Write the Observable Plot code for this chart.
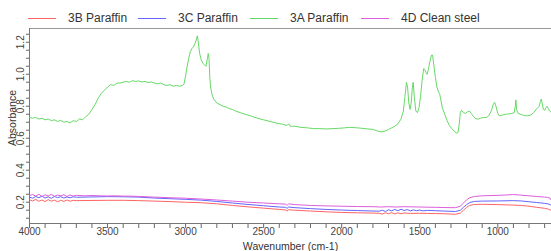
<!DOCTYPE html>
<html><head><meta charset="utf-8">
<script src="https://cdn.jsdelivr.net/npm/d3@7"></script>
<script src="https://cdn.jsdelivr.net/npm/@observablehq/plot@0.6"></script>
<style>
body{margin:0;background:#fff;font-family:"Liberation Sans",Arial,sans-serif;}
#legend{position:relative;width:551px;height:24px;font-size:12px;color:#333;}
.item{position:absolute;top:11px;display:flex;align-items:center;white-space:pre;}
.sw{width:28px;height:0;border-top:1.2px solid;margin-right:12px;}
</style>
</head><body>
<div id="legend"></div>
<div id="chart"></div>
<script>
const seriesNames = ["3B Paraffin", "3C Paraffin", "3A Paraffin", "4D Clean steel"];
const seriesColors = ["#ff6464", "#6464ff", "#66d966", "#dc5edc"];

// 3A Paraffin (green)
const wnA = [4000,3980,3960,3940,3920,3900,3880,3860,3840,3820,3800,3780,3760,3740,3720,3700,3680,3660,3640,3620,3600,3580,3560,3540,3520,3500,3480,3460,3440,3420,3400,3380,3360,3340,3320,3300,3280,3260,3240,3220,3200,3180,3160,3140,3120,3100,3080,3060,3040,3020,3010,3000,2990,2980,2970,2960,2950,2940,2930,2925,2920,2910,2900,2890,2880,2870,2860,2855,2850,2845,2840,2830,2820,2800,2780,2760,2740,2720,2700,2680,2650,2620,2600,2570,2540,2500,2460,2420,2380,2350,2340,2330,2300,2260,2220,2180,2140,2100,2060,2020,1980,1950,1900,1850,1800,1770,1750,1720,1700,1680,1660,1640,1620,1605,1595,1585,1578,1570,1562,1555,1547,1542,1535,1525,1515,1505,1495,1485,1475,1468,1460,1453,1445,1435,1425,1418,1410,1400,1390,1380,1372,1365,1355,1340,1325,1310,1295,1280,1265,1255,1248,1240,1232,1220,1207,1195,1182,1170,1155,1140,1125,1110,1090,1070,1055,1040,1028,1020,1012,1000,990,970,950,930,910,895,888,884,880,870,850,830,810,790,770,750,735,727,722,716,708,700,692,684,676,668,660,656];
const absA = [0.73,0.725,0.73,0.72,0.725,0.715,0.72,0.71,0.715,0.705,0.712,0.70,0.705,0.695,0.71,0.705,0.72,0.715,0.735,0.75,0.78,0.81,0.85,0.88,0.90,0.92,0.935,0.93,0.945,0.945,0.95,0.955,0.95,0.96,0.955,0.958,0.952,0.955,0.948,0.952,0.945,0.94,0.945,0.935,0.93,0.935,0.925,0.93,0.925,0.93,0.94,0.99,1.05,1.10,1.14,1.16,1.17,1.19,1.22,1.24,1.21,1.13,1.09,1.07,1.06,1.05,1.10,1.13,1.10,0.98,0.92,0.87,0.845,0.82,0.81,0.80,0.795,0.785,0.78,0.77,0.76,0.75,0.745,0.735,0.725,0.715,0.705,0.695,0.688,0.68,0.69,0.675,0.675,0.668,0.665,0.66,0.66,0.658,0.66,0.662,0.665,0.668,0.665,0.66,0.655,0.645,0.64,0.645,0.655,0.665,0.675,0.69,0.72,0.77,0.86,0.95,0.92,0.82,0.78,0.82,0.92,0.95,0.86,0.77,0.76,0.79,0.86,0.96,1.035,1.03,1.01,1.0,1.03,1.08,1.12,1.12,1.06,0.98,0.92,0.89,0.875,0.84,0.79,0.75,0.71,0.68,0.66,0.645,0.632,0.635,0.68,0.76,0.775,0.76,0.755,0.765,0.77,0.755,0.735,0.722,0.72,0.725,0.73,0.73,0.745,0.775,0.815,0.825,0.80,0.755,0.74,0.745,0.75,0.752,0.755,0.76,0.80,0.84,0.78,0.755,0.748,0.742,0.74,0.745,0.76,0.785,0.80,0.83,0.845,0.82,0.78,0.775,0.79,0.80,0.785,0.77,0.765,0.76];

// 4D Clean steel (magenta)
const wnD = [4000,3980,3960,3940,3920,3900,3880,3860,3840,3820,3800,3780,3760,3740,3720,3700,3650,3600,3550,3500,3450,3400,3350,3300,3200,3100,3000,2900,2800,2700,2600,2500,2400,2360,2350,2340,2300,2200,2100,2000,1900,1800,1750,1700,1650,1600,1500,1400,1350,1300,1270,1240,1220,1200,1180,1150,1100,1000,950,900,870,800,750,700,680,665,660,656];
const absD = [0.242,0.248,0.238,0.25,0.236,0.246,0.24,0.249,0.237,0.245,0.24,0.247,0.236,0.245,0.239,0.243,0.24,0.242,0.24,0.239,0.24,0.238,0.238,0.236,0.232,0.228,0.225,0.22,0.214,0.207,0.20,0.195,0.19,0.188,0.18,0.19,0.185,0.18,0.177,0.175,0.173,0.172,0.17,0.172,0.17,0.172,0.17,0.168,0.167,0.166,0.166,0.175,0.195,0.215,0.228,0.236,0.24,0.243,0.245,0.248,0.246,0.24,0.236,0.232,0.23,0.225,0.215,0.22];

// 3C Paraffin (blue)
const wnC = [4000,3980,3960,3940,3920,3900,3880,3860,3840,3820,3800,3780,3760,3740,3720,3700,3600,3500,3400,3300,3200,3100,3000,2900,2800,2700,2600,2500,2400,2360,2350,2340,2300,2200,2100,2000,1900,1800,1760,1740,1720,1700,1680,1660,1640,1620,1600,1580,1560,1540,1520,1500,1480,1450,1400,1350,1300,1270,1240,1220,1200,1180,1150,1100,1000,900,850,800,750,700,680,665,656];
const absC = [0.232,0.225,0.236,0.228,0.238,0.226,0.234,0.224,0.236,0.229,0.235,0.226,0.233,0.228,0.234,0.231,0.233,0.235,0.234,0.232,0.226,0.222,0.218,0.213,0.205,0.195,0.186,0.178,0.17,0.168,0.162,0.17,0.166,0.16,0.155,0.151,0.148,0.145,0.144,0.15,0.142,0.153,0.146,0.155,0.147,0.156,0.148,0.154,0.146,0.152,0.147,0.151,0.146,0.149,0.147,0.145,0.143,0.142,0.15,0.168,0.185,0.198,0.205,0.207,0.208,0.21,0.208,0.203,0.198,0.193,0.19,0.185,0.178];

// 3B Paraffin (red)
const wnB = [4000,3980,3960,3940,3920,3900,3880,3860,3840,3820,3800,3780,3760,3740,3720,3700,3600,3500,3400,3300,3200,3100,3000,2900,2800,2700,2600,2500,2400,2360,2350,2340,2300,2200,2100,2000,1900,1800,1760,1740,1720,1700,1680,1660,1640,1620,1600,1560,1500,1450,1400,1350,1300,1270,1240,1220,1200,1180,1150,1100,1000,900,850,800,750,700,680,665,656];
const absB = [0.215,0.208,0.218,0.206,0.214,0.204,0.216,0.207,0.213,0.203,0.212,0.205,0.214,0.206,0.212,0.21,0.211,0.212,0.212,0.21,0.207,0.204,0.20,0.197,0.19,0.18,0.171,0.163,0.155,0.152,0.145,0.153,0.15,0.145,0.14,0.136,0.134,0.132,0.131,0.126,0.134,0.128,0.135,0.127,0.134,0.128,0.133,0.13,0.131,0.13,0.129,0.128,0.126,0.125,0.132,0.15,0.168,0.18,0.186,0.187,0.185,0.182,0.18,0.175,0.168,0.162,0.158,0.152,0.148];

const xTicks = d3.range(4000, 599, -100);
const xLabels = [4000, 3500, 3000, 2500, 2000, 1500, 1000];
const yTicks = d3.range(0.1, 1.2501, 0.05).map(v => +v.toFixed(2));
const yLabels = [0.2, 0.4, 0.6, 0.8, 1.0, 1.2];

// legend
const legendX = [28, 138, 250, 361];
const legend = document.getElementById("legend");
seriesNames.forEach((n, i) => {
  const el = document.createElement("div");
  el.className = "item";
  el.style.left = legendX[i] + "px";
  el.innerHTML = `<span class="sw" style="border-color:${seriesColors[i]}"></span><span>${n}</span>`;
  legend.appendChild(el);
});

const rows = [];
const add = (wn, ab, name) => wn.forEach((w, i) => rows.push({wn: w, abs: ab[i], s: name}));
add(wnB, absB, seriesNames[0]);
add(wnC, absC, seriesNames[1]);
add(wnA, absA, seriesNames[2]);
add(wnD, absD, seriesNames[3]);

const yDom = [0.067, 1.286];
const chart = Plot.plot({
  width: 551,
  height: 227,
  marginTop: 4,
  marginBottom: 28,
  marginLeft: 29,
  marginRight: 0,
  style: {fontFamily: "'Liberation Sans', Arial, sans-serif", background: "#fff"},
  x: {domain: [4000, 656]},
  y: {domain: yDom},
  color: {domain: seriesNames, range: seriesColors},
  marks: [
    Plot.ruleY([yDom[1]], {stroke: "#999", strokeWidth: 1}),
    Plot.axisX({ticks: xTicks, tickSize: 5, tickPadding: -1, tickFormat: d => xLabels.includes(d) ? String(d) : "", fontSize: 10, fill: "#444", stroke: "#666", label: null}),
    Plot.ruleY([yDom[0]], {stroke: "#777"}),
    Plot.ruleX([4000], {stroke: "#777"}),
    Plot.axisY({ticks: yTicks, tickSize: 3, tickFormat: () => "", stroke: "#666", label: null}),
    Plot.text(yLabels, {y: d => d, text: d => d.toFixed(1), frameAnchor: "left", textAnchor: "middle", lineAnchor: "middle", dx: -9, rotate: -90, fontSize: 10, fill: "#444"}),
    Plot.text(["Wavenumber (cm-1)"], {frameAnchor: "bottom", lineAnchor: "middle", textAnchor: "middle", dy: 23, fontSize: 10.5, fill: "#333"}),
    Plot.text(["Absorbance"], {frameAnchor: "left", textAnchor: "middle", lineAnchor: "middle", dx: -17, dy: -8, rotate: -90, fontSize: 10.5, fill: "#333"}),
    Plot.line(rows, {x: "wn", y: "abs", z: "s", stroke: "s", strokeWidth: 1, clip: true})
  ]
});
document.getElementById("chart").appendChild(chart);
</script>
</body></html>
